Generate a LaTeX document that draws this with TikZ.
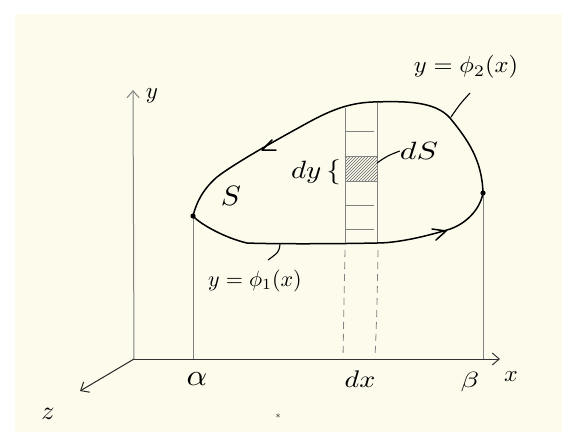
\documentclass[tikz,border=0pt]{standalone}
\usetikzlibrary{arrows.meta,patterns}
\definecolor{paper}{RGB}{253,251,236}
\definecolor{axisgray}{RGB}{130,130,130}
\newcommand\hw[3][2.2]{\scalebox{#1}[#2]{$#3$}}
\tikzset{
  lbl/.style={inner sep=0pt},
  guide/.style={axisgray, line width=1pt},
  curve/.style={black, line width=1.5pt},
  axis/.style={line width=1pt},
  tip/.style={-{Straight Barb[length=7pt,width=12pt]}},
}
\begin{document}
\begin{tikzpicture}[x=1pt,y=-1pt]
\useasboundingbox (0,0) rectangle (562,432);
\fill[white] (0,0) rectangle (562,432);
\fill[paper] (15,14) rectangle (562,432);
% axes
\coordinate (O) at (134,359);
\coordinate (Ytop) at (133,90);
\coordinate (Xend) at (500,359);
\coordinate (Zend) at (80,391);
\draw[axis, axisgray, tip] (O) -- (Ytop);
\draw[axis, black!80, tip] (O) -- (Xend);
\draw[axis, black!85, tip] (O) -- (Zend);
\node[lbl] (ylab) at (152,96) {\hw[2.3]{2.3}{y}};
\node[lbl] (xlab) at (511,377) {\hw[2.4]{2.3}{x}};
\node[lbl] (zlab) at (48,414) {\hw[2.6]{2.6}{z}};
\node[lbl] (alab) at (197,379) {\hw[3.2]{3}{\alpha}};
\node[lbl] (dxlab) at (360,379) {\hw[2.8]{2.4}{dx}};
\node[lbl] (blab) at (470,382) {\hw[3]{2.2}{\beta}};
\node[lbl] (dot) at (278,416) {\hw[1]{1}{*}};
% key points
\coordinate (A) at (193,216);
\coordinate (B) at (483,193);
% guides to axis
\draw[guide] (A) -- (193,359);
\draw[guide] (B) -- (483,359);
% strip
\draw[guide] (345,108) -- (345,244);
\draw[guide] (377,103) -- (377,242);
\foreach \yy in {131,205,229} \draw[guide] (345,\yy) -- (374,\yy);
\node[draw=axisgray, line width=0.8pt, pattern=north east lines, pattern color=black!60,
      minimum width=32pt, minimum height=25pt, inner sep=0pt] (dS) at (361,168.5) {};
\draw[axisgray, line width=0.8pt, dash pattern=on 7pt off 5pt] (345,250) .. controls (344,300) .. (343,358);
\draw[axisgray, line width=0.8pt, dash pattern=on 7pt off 5pt] (378,250) .. controls (377,310) .. (375,358);
% closed curve
\draw[curve] (A) .. controls (196,204) and (202,190) .. (217,177)
  .. controls (235,163) and (280,138) .. (300,127)
  .. controls (325,113) and (345,103) .. (373,102)
  .. controls (405,101) and (435,101) .. (450,118)
  .. controls (468,140) and (482,160) .. (B)
  .. controls (480,210) and (465,225) .. (447,230)
  .. controls (420,238) and (395,243) .. (377,243)
  .. controls (330,244) and (270,244) .. (247,243)
  .. controls (225,238) and (200,224) .. (A);
% direction arrows on curve
\draw[curve, line cap=round, line join=round] (272,140) -- (262,150) -- (276,150);
\draw[curve, line cap=round, line join=round] (432,229) -- (446,231) -- (436,240);
\fill (A) circle (2.6pt);
\fill (B) circle (2.6pt);
% labels
\node[lbl] (Slab) at (231,196) {\hw[3]{2.8}{S}};
\node[lbl, anchor=east] (dylab) at (341,172) {\hw[2.9]{2.5}{dy\,\{}};
\node[lbl] (dSlab) at (419,151) {\hw[3.2]{2.5}{dS}};
\draw[line width=1.1pt] (377,163) .. controls (387,156) .. (dSlab.west);
\node[lbl] (phi2) at (466,67) {\hw[2.45]{2.3}{y=\phi_2(x)}};
\draw[line width=1.1pt] (451,117) .. controls (460,104) .. (470,93);
\node[lbl] (phi1) at (255,281) {\hw[2.2]{2.2}{y=\phi_1(x)}};
\draw[line width=1.1pt] (280,244) .. controls (279,252) .. (268,260);
\end{tikzpicture}
\end{document}
